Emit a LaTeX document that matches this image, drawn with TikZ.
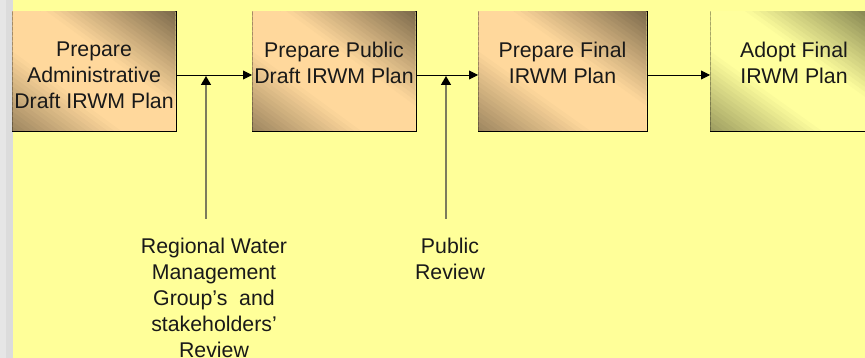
\documentclass[tikz,border=0pt]{standalone}
\usepackage{fontspec}
\setmainfont{Liberation Sans}
\usetikzlibrary{arrows.meta,calc}
\definecolor{bgyellow}{HTML}{FFFF99}
\definecolor{stripA}{HTML}{E6E6E6}
\definecolor{stripB}{HTML}{DCDCDC}
\definecolor{peachlt}{HTML}{FFD89C}
\definecolor{peachdk}{HTML}{7A684A}
\definecolor{yellt}{HTML}{FFFF9E}
\definecolor{yeldk}{HTML}{7A7A4A}
\definecolor{olive}{HTML}{7C7C5C}
\tikzset{
  box/.style={draw=black, line width=0.9pt, outer sep=0pt, minimum width=#1, minimum height=120pt, inner sep=0pt},
  txt/.style={font={\fontsize{21.3}{26}\selectfont}, align=center, inner sep=0pt, anchor=north, text=black!90},
  flow/.style={line width=0.9pt, -{Triangle[length=9pt,width=9pt]}},
  feed/.style={line width=1.6pt, draw=olive, -{Triangle[length=9pt,width=10pt,fill=black,color=black]}}
}
% diagonal gradient: light along the NW-SE diagonal, dark toward NE and SW corners
\newcommand\gradfill[3]{%
  \begin{scope}
    \clip ($(#1.south west)+(0.45,-0.45)$) rectangle ($(#1.north east)+(-0.45,0.45)$);
    \foreach \gi in {-24,...,23} {
      \pgfmathsetmacro\gta{\gi/24}
      \pgfmathsetmacro\gtb{(\gi+1.15)/24}
      \pgfmathsetmacro\gtm{(\gi+0.5)/24}
      \pgfmathsetmacro\gmix{\gtm>0 ? min(100,125*(1-\gtm)) : min(100,25+110*(1+\gtm))}
      \fill[#2!\gmix!#3]
        ($(#1.center)!\gta!(#1.north east) + (#1.south east) - (#1.north west)$) --
        ($(#1.center)!\gta!(#1.north east) - (#1.south east) + (#1.north west)$) --
        ($(#1.center)!\gtb!(#1.north east) - (#1.south east) + (#1.north west)$) --
        ($(#1.center)!\gtb!(#1.north east) + (#1.south east) - (#1.north west)$) -- cycle;
    }
  \end{scope}}
\begin{document}
\begin{tikzpicture}[x=1pt,y=-1pt]
\useasboundingbox (0,0) rectangle (865,358);
\fill[bgyellow] (0,0) rectangle (865,358);
\fill[stripA] (0,0) rectangle (6,358);
\fill[stripB] (6,0) rectangle (13,358);
% boxes
\node[box=164pt] (b1) at (94,71) {};
\node[box=164pt] (b2) at (334,71) {};
\node[box=169pt] (b3) at (562.5,71) {};
\node[box=168pt] (b4) at (794,71) {};
\gradfill{b1}{peachlt}{peachdk}
\gradfill{b2}{peachlt}{peachdk}
\gradfill{b3}{peachlt}{peachdk}
\gradfill{b4}{yellt}{yeldk}
% box texts
\node[txt] (t1) at (94,42) {Prepare\\Administrative\\Draft IRWM Plan};
\node[txt] (t2) at (334,42) {Prepare Public\\Draft IRWM Plan};
\node[txt] (t3) at (562.5,42) {Prepare Final\\IRWM Plan};
\node[txt] (t4) at (794,42) {Adopt Final\\IRWM Plan};
% flow arrows
\draw[flow] (b1.east |- 0,75) -- (b2.west |- 0,75);
\draw[flow] (b2.east |- 0,75) -- (b3.west |- 0,75);
\draw[flow] (b3.east |- 0,75) -- (b4.west |- 0,75);
% feedback inputs
\coordinate (r1) at (206,219);
\coordinate (m1) at (206,76);
\coordinate (r2) at (446,219);
\coordinate (m2) at (446,76);
\draw[feed] (r1) -- (m1);
\draw[feed] (r2) -- (m2);
\node[txt] (l1) at (214,238) {Regional Water\\Management\\Group’s~ and\\stakeholders’\\Review};
\node[txt] (l2) at (450,238) {Public\\Review};
\end{tikzpicture}
\end{document}
